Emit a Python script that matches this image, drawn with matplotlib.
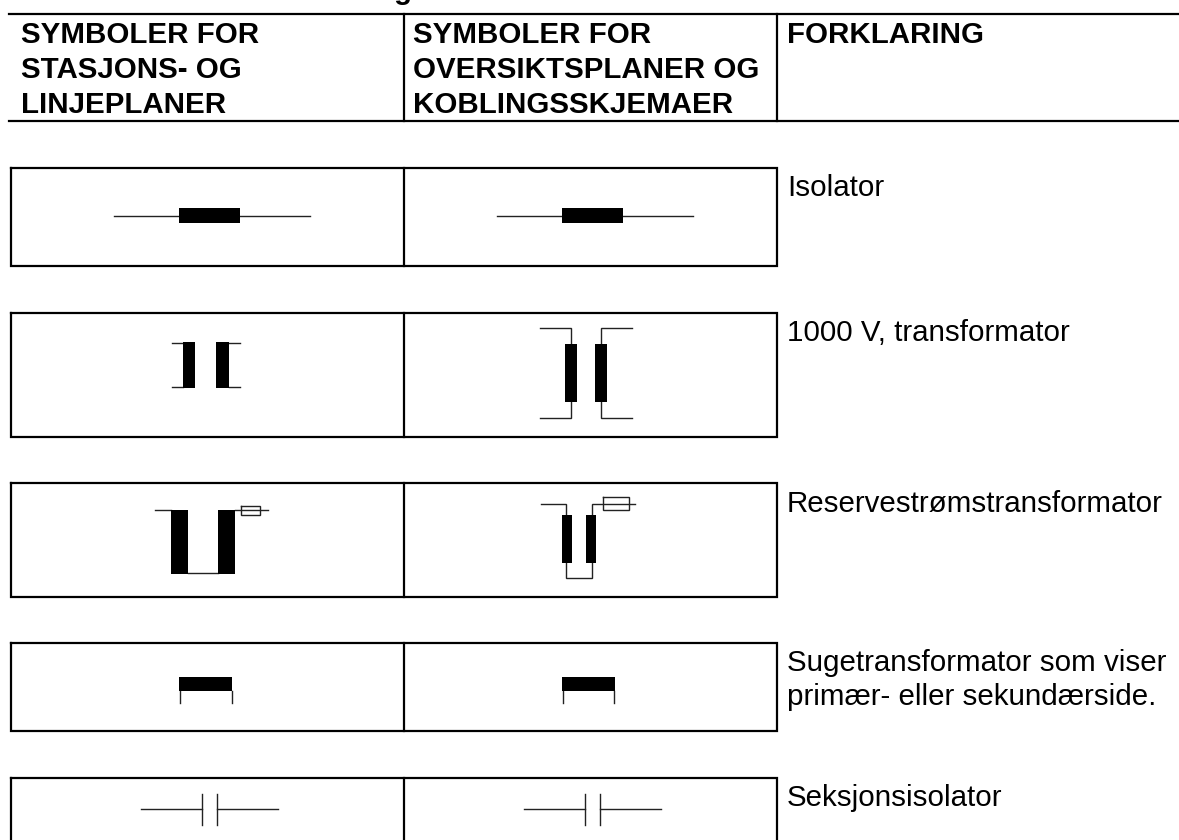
import matplotlib
matplotlib.use('Agg')
import matplotlib.pyplot as plt

plt.rcParams['font.family'] = ['Liberation Sans', 'DejaVu Sans']

# everything below is in pixels of the 1179x840 page, y going down
header_lines = [
	(21, 43, 'SYMBOLER FOR'), (21, 78, 'STASJONS- OG'), (21, 113, 'LINJEPLANER'),
	(413, 43, 'SYMBOLER FOR'), (413, 78, 'OVERSIKTSPLANER OG'), (413, 113, 'KOBLINGSSKJEMAER'),
	(787, 43, 'FORKLARING'),
]
explanations = [
	(787, 196, 'Isolator'),
	(787, 341, '1000 V, transformator'),
	(787, 512, 'Reservestrømstransformator'),
	(787, 671, 'Sugetransformator som viser'),
	(787, 705, 'primær- eller sekundærside.'),
	(787, 806, 'Seksjonsisolator'),
]

# (top, bottom) of the boxes, last one runs off the page
box_rows = [(168, 266), (313, 437), (483, 597), (643, 731), (778, 860)]
box_left = 11
box_mid = 404
box_right = 777

# (x0, x1, y0, y1) of the black blocks
black_blocks = [
	(179, 240, 208, 223), (562, 623, 208, 223),
	(183, 195, 342, 388), (216, 229, 342, 388),
	(565, 577, 344, 402), (595, 607, 344, 402),
	(171, 188, 510, 574), (218, 235, 510, 574),
	(562, 572, 515, 563), (586, 596, 515, 563),
	(179, 232, 677, 691), (562, 615, 677, 691),
]

# thin polylines, xs then ys
thin_lines = [
	([114, 310], [216, 216]), ([497, 693], [216, 216]),
	([172, 183], [343, 343]), ([172, 183], [387, 387]),
	([229, 240], [343, 343]), ([229, 240], [387, 387]),
	([540, 571, 571], [328, 328, 344]), ([540, 571, 571], [418, 418, 402]),
	([632, 601, 601], [328, 328, 344]), ([632, 601, 601], [418, 418, 402]),
	([155, 171], [510, 510]), ([235, 268], [510, 510]), ([188, 218], [573, 573]),
	([241, 260, 260, 241, 241], [506, 506, 515, 515, 506]),
	([541, 566, 566], [504, 504, 515]), ([566, 566, 592, 592], [563, 578, 578, 563]),
	([592, 592, 635], [515, 504, 504]),
	([603, 629, 629, 603, 603], [497, 497, 510, 510, 497]),
	([180, 180], [691, 703]), ([232, 232], [691, 703]),
	([563, 563], [691, 703]), ([614, 614], [691, 703]),
	([141, 202], [809, 809]), ([217, 278], [809, 809]),
	([202, 202], [794, 825]), ([217, 217], [794, 825]),
	([524, 585], [809, 809]), ([600, 661], [809, 809]),
	([585, 585], [794, 825]), ([600, 600], [794, 825]),
]

fig = plt.figure(figsize=(11.79, 8.4), dpi=100)
ax = fig.add_axes([0, 0, 1, 1])
ax.set_xlim(0, 1179)
ax.set_ylim(840, 0)
ax.axis('off')

thick = 1.6
thin = 1.0

# header rules
ax.plot([9, 1179], [14, 14], color='black', lw=thick)
ax.plot([9, 1179], [121, 121], color='black', lw=thick)
ax.plot([404, 404], [14, 121], color='black', lw=thick)
ax.plot([777, 777], [14, 121], color='black', lw=thick)

# symbol boxes
for top, bottom in box_rows:
	ax.plot([box_left, box_right, box_right, box_left, box_left],
		[top, top, bottom, bottom, top], color='black', lw=thick, solid_joinstyle='miter')
	ax.plot([box_mid, box_mid], [top, bottom], color='black', lw=thick)

for xs, ys in thin_lines:
	ax.plot(xs, ys, color='#222222', lw=thin, solid_joinstyle='miter')

for x0, x1, y0, y1 in black_blocks:
	ax.fill([x0, x1, x1, x0], [y0, y0, y1, y1], color='black', lw=0, zorder=3)

# 29.5 px at dpi 100
size = 29.5 * 0.72

# tail of the title line, the page cuts off the rest of it
ax.text(394, -1, 'g', fontsize=size, fontweight='bold', va='baseline')

for x, y, s in header_lines:
	ax.text(x, y, s, fontsize=size, fontweight='bold', va='baseline')
for x, y, s in explanations:
	ax.text(x, y, s, fontsize=size, va='baseline')

fig.savefig('out.png', dpi=100)
